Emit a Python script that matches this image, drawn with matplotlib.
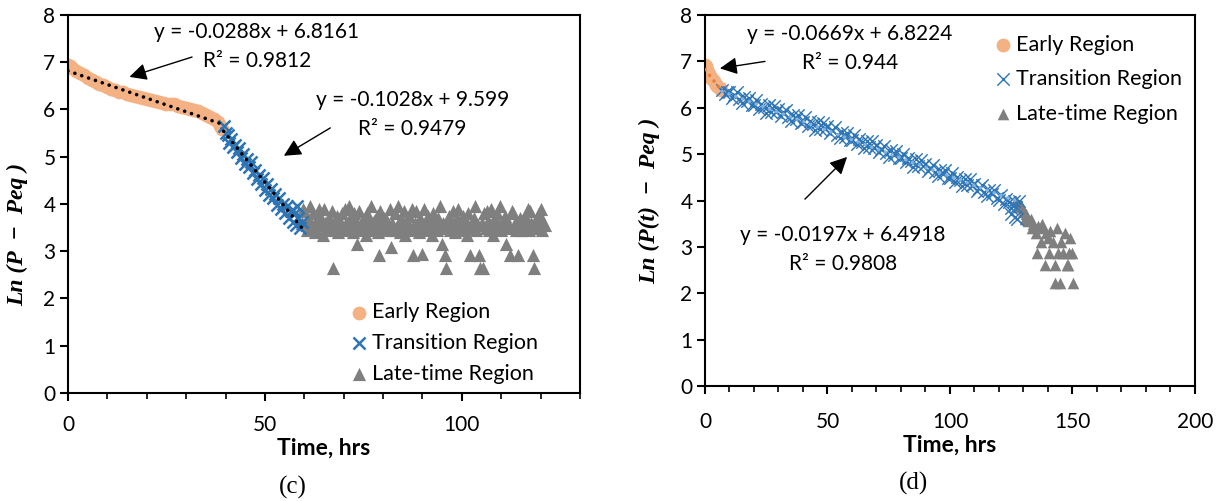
import numpy as np
import matplotlib.pyplot as plt
from matplotlib.ticker import MultipleLocator

plt.rcParams['font.family'] = ['Lato', 'DejaVu Sans']

# ---- panel (c) ----
c_early_t = [0, 0.5, 1, 2, 3, 4, 5, 6, 7, 8, 9, 10, 11, 12, 13, 14, 15, 16, 17, 18,
             19, 20, 21, 22, 23, 24, 25, 26, 27, 28, 29, 30, 31, 32, 33, 34, 35, 36, 37, 38,
             38.5, 39]
c_early_y = [6.95, 6.91, 6.87, 6.82, 6.77, 6.72, 6.66, 6.62, 6.58, 6.54, 6.51, 6.47, 6.44, 6.41, 6.38, 6.36, 6.33, 6.31, 6.29, 6.26,
             6.24, 6.22, 6.20, 6.18, 6.16, 6.14, 6.12, 6.11, 6.12, 6.08, 6.05, 6.03, 6.01, 5.98, 5.96, 5.93, 5.89, 5.85, 5.80, 5.73,
             5.66, 5.58]

c_trans_t = [39.5, 40, 40.5, 41, 41.5, 42, 42.5, 43, 43.5, 44, 44.5, 45, 45.5, 46, 46.5, 47, 47.5, 48, 48.5, 49,
             49.5, 50, 50.5, 51, 51.5, 52, 52.5, 53, 53.5, 54, 54.5, 55, 55.5, 56, 56.5, 57, 57.5, 58, 58.5, 59,
             59.5, 58.2, 57.2]
c_trans_y = [5.65, 5.50, 5.45, 5.30, 5.38, 5.20, 5.25, 5.10, 5.18, 4.98, 5.05, 4.85, 4.95, 4.78, 4.88, 4.65, 4.72, 4.52, 4.62, 4.42,
             4.55, 4.30, 4.42, 4.20, 4.32, 4.12, 4.22, 3.98, 4.12, 3.90, 4.00, 3.80, 3.95, 3.70, 3.85, 3.62, 3.78, 3.55, 3.70, 3.50,
             3.62, 3.95, 3.88]

c_late_t = [59.5, 59.7,
            60, 60.33, 60.67, 61, 61.33, 61.67, 62, 62.33, 62.67, 63, 63.33, 63.67, 64, 64.33, 64.67,
            65, 65.33, 65.67, 66, 66.33, 66.67, 67, 67.33, 67.67, 68, 68.33, 68.67, 69, 69.33, 69.67,
            70, 70.33, 70.67, 71, 71.33, 71.67, 72, 72.33, 72.67, 73, 73.33, 73.67, 74, 74.33, 74.67,
            75, 75.33, 75.67, 76, 76.33, 76.67, 77, 77.33, 77.67, 78, 78.33, 78.67, 79, 79.33, 79.67,
            80, 80.33, 80.67, 81, 81.33, 81.67, 82, 82.33, 82.67, 83, 83.33, 83.67, 84, 84.33, 84.67,
            85, 85.33, 85.67, 86, 86.33, 86.67, 87, 87.33, 87.67, 88, 88.33, 88.67, 89, 89.33, 89.67,
            90, 90.33, 90.67, 91, 91.33, 91.67, 92, 92.33, 92.67, 93, 93.33, 93.67, 94, 94.33, 94.67,
            95, 95.33, 95.67, 96, 96.33, 96.67, 97, 97.33, 97.67, 98, 98.33, 98.67, 99, 99.33, 99.67,
            100, 100.33, 100.67, 101, 101.33, 101.67, 102, 102.33, 102.67, 103, 103.33, 103.67, 104, 104.33, 104.67,
            105, 105.33, 105.67, 106, 106.33, 106.67, 107, 107.33, 107.67, 108, 108.33, 108.67, 109, 109.33, 109.67,
            110, 110.33, 110.67, 111, 111.33, 111.67, 112, 112.33, 112.67, 113, 113.33, 113.67, 114, 114.33, 114.67,
            115, 115.33, 115.67, 116, 116.33, 116.67, 117, 117.33, 117.67, 118, 118.33, 118.67, 119, 119.33, 119.67,
            120, 120.33, 120.67, 121]
c_late_y = [3.60, 3.90,
            3.85, 3.60, 3.45, 3.70, 3.95, 3.50, 3.55, 3.80, 3.40, 3.65, 3.45, 3.90, 3.75, 3.55, 3.35,
            3.90, 3.60, 3.50, 3.45, 3.70, 3.55, 3.85, 2.65, 3.60, 3.50, 3.75, 3.40, 3.65, 3.55, 3.80,
            3.45, 3.90, 3.60, 3.50, 3.95, 3.70, 3.55, 3.40, 3.80, 3.65, 3.15, 3.50, 3.85, 3.60, 3.45,
            3.55, 3.70, 3.35, 3.80, 3.50, 3.60, 3.95, 3.45, 3.65, 3.55, 3.75, 3.40, 2.92, 3.85, 3.60,
            3.50, 3.70, 3.45, 3.65, 3.55, 3.90, 3.10, 3.60, 3.45, 3.80, 3.50, 3.95, 3.60, 3.40, 3.70,
            3.55, 3.85, 3.35, 3.65, 3.50, 3.75, 3.45, 3.90, 2.92, 3.60, 3.85, 3.50, 3.40, 3.70, 3.55,
            2.95, 3.90, 3.60, 3.50, 3.75, 3.45, 3.65, 3.35, 3.80, 3.55, 3.60, 3.45, 3.70, 3.95, 3.50,
            3.15, 3.60, 2.92, 2.65, 3.55, 3.75, 3.45, 3.65, 3.85, 3.55, 3.40, 3.70, 3.90, 3.60, 3.50,
            3.45, 3.75, 3.55, 3.65, 3.35, 3.80, 2.92, 3.50, 3.60, 3.70, 3.95, 3.45, 3.55, 2.92, 2.65,
            3.60, 2.65, 3.80, 3.50, 3.85, 3.65, 3.45, 3.90, 3.55, 3.35, 3.70, 3.60, 3.80, 3.50, 3.95,
            3.45, 3.65, 3.55, 3.75, 3.15, 3.60, 3.50, 2.92, 3.85, 3.80, 3.55, 3.45, 3.65, 2.92, 3.70,
            3.45, 3.60, 3.50, 3.75, 3.55, 3.90, 3.45, 3.85, 3.60, 2.92, 2.65, 3.55, 3.70, 3.50, 3.80,
            3.90, 3.45, 3.60, 3.55]

c_fit_early = (-0.0288, 6.8161, 0.9812)
c_fit_trans = (-0.1028, 9.599, 0.9479)

# ---- panel (d) ----
d_early_t = [0, 0.3, 0.6, 1.0, 1.4, 1.8, 2.2, 2.6, 3.0, 3.5, 4.0, 4.5, 5.0, 5.5, 6.0, 6.5]
d_early_y = [6.92, 6.90, 6.86, 6.82, 6.77, 6.72, 6.68, 6.64, 6.61, 6.57, 6.54, 6.50, 6.47, 6.44, 6.42, 6.39]

d_trans_t = [7, 8, 9,
             10, 11, 12, 13, 14, 15, 16, 17, 18, 19,
             20, 21, 22, 23, 24, 25, 26, 27, 28, 29,
             30, 31, 32, 33, 34, 35, 36, 37, 38, 39,
             40, 41, 42, 43, 44, 45, 46, 47, 48, 49,
             50, 51, 52, 53, 54, 55, 56, 57, 58, 59,
             60, 61, 62, 63, 64, 65, 66, 67, 68, 69,
             70, 71, 72, 73, 74, 75, 76, 77, 78, 79,
             80, 81, 82, 83, 84, 85, 86, 87, 88, 89,
             90, 91, 92, 93, 94, 95, 96, 97, 98, 99,
             100, 101, 102, 103, 104, 105, 106, 107, 108, 109,
             110, 111, 112, 113, 114, 115, 116, 117, 118, 119,
             120, 121, 122, 123, 124, 125, 126, 127, 128,
             125, 126.5, 127.5]
d_trans_y = [6.38, 6.30, 6.33,
             6.35, 6.21, 6.28, 6.34, 6.18, 6.10, 6.23, 6.14, 6.22, 6.06,
             6.07, 6.17, 5.98, 6.08, 6.02, 5.89, 6.05, 5.91, 6.04, 5.90,
             5.98, 5.83, 5.90, 5.96, 5.80, 5.72, 5.85, 5.76, 5.84, 5.68,
             5.70, 5.80, 5.61, 5.71, 5.66, 5.53, 5.69, 5.55, 5.68, 5.54,
             5.60, 5.45, 5.52, 5.58, 5.42, 5.34, 5.47, 5.38, 5.46, 5.30,
             5.31, 5.41, 5.22, 5.32, 5.26, 5.13, 5.29, 5.15, 5.28, 5.14,
             5.20, 5.05, 5.12, 5.18, 5.02, 4.94, 5.08, 4.99, 5.07, 4.91,
             4.91, 5.01, 4.82, 4.92, 4.86, 4.73, 4.89, 4.75, 4.88, 4.74,
             4.79, 4.64, 4.71, 4.77, 4.61, 4.53, 4.66, 4.57, 4.65, 4.49,
             4.49, 4.59, 4.40, 4.50, 4.44, 4.31, 4.47, 4.33, 4.46, 4.33,
             4.36, 4.21, 4.28, 4.34, 4.18, 4.10, 4.23, 4.14, 4.22, 4.06,
             4.02, 4.12, 3.93, 4.03, 3.97, 3.84, 4.00, 3.86, 3.99,
             3.72, 3.65, 3.60]

d_late_t = [127, 128, 129, 130, 130.5, 131, 132, 133, 133.5, 134, 135, 135.5, 136, 137, 137.5, 138, 138.6, 139, 140, 140.5,
            141, 142, 143, 143, 143.5, 144, 145, 145.5, 146, 147, 147.6, 148, 148.5, 149, 150, 150.4]
d_late_y = [4.00, 3.85, 3.90, 3.75, 3.60, 3.70, 3.55, 3.60, 3.40, 3.50, 3.30, 2.87, 3.45, 3.10, 3.50, 3.40, 2.62, 3.30, 3.20, 2.87,
            3.35, 3.10, 2.62, 2.23, 3.40, 2.87, 2.23, 3.10, 2.87, 3.30, 2.62, 2.62, 2.87, 3.20, 2.87, 2.23]

d_fit_early = (-0.0669, 6.8224, 0.944)
d_fit_trans = (-0.0197, 6.4918, 0.9808)

ORANGE = '#F4B183'
BLUE = '#2E75B6'
GRAY = '#7F7F7F'


def fit_text(fit):
    m, b, r2 = fit
    return 'y = {}x + {}\nR² = {}'.format(m, b, r2)


def trend(ax, t, fit, color):
    m, b, _ = fit
    x = np.array([min(t), max(t)])
    ax.plot(x, m * x + b, color=color, lw=2.6, linestyle=(0, (0.01, 2.0)),
            dash_capstyle='round', zorder=5)


def style_axes(ax, xmax):
    ax.set_xlim(0, xmax)
    ax.set_ylim(0, 8)
    ax.xaxis.set_major_locator(MultipleLocator(50))
    ax.xaxis.set_minor_locator(MultipleLocator(10))
    ax.yaxis.set_major_locator(MultipleLocator(1))
    for s in ax.spines.values():
        s.set_linewidth(1.5)
    ax.tick_params(axis='both', which='major', direction='out', length=6, width=1.5,
                   labelsize=15, pad=3)
    ax.tick_params(axis='x', which='minor', direction='out', length=4, width=1.2)
    ax.tick_params(axis='x', pad=10)
    ax.set_xlabel('Time, hrs', fontsize=16.5, fontweight='bold', labelpad=2)


arrow = dict(arrowstyle='-|>', mutation_scale=26, lw=1, color='black', shrinkA=0, shrinkB=0)
fig = plt.figure(figsize=(12.25, 5.01), dpi=100)

# (c)
ax = fig.add_axes([0.0555, 0.2156, 0.418, 0.7545])
ax.scatter(c_early_t, c_early_y, s=80, color=ORANGE, marker='o', label='Early Region', zorder=2)
ax.scatter(c_trans_t, c_trans_y, s=75, color=BLUE, marker='x', linewidths=1.8, label='Transition Region', zorder=3)
ax.scatter(c_late_t, c_late_y, s=90, color=GRAY, marker='^', linewidths=0, label='Late-time Region', zorder=2)
trend(ax, c_early_t, c_fit_early, 'black')
trend(ax, c_trans_t, c_fit_trans, 'black')
style_axes(ax, 130)
fig.text(18 / 1225, 1 - 234 / 501, 'Ln (P  −  Peq )', rotation=90, ha='center', va='center',
         fontsize=17, fontweight='bold', fontstyle='italic', family=['Liberation Serif'])
ax.text(48.0, 7.34, fit_text(c_fit_early), ha='center', va='center', fontsize=15, linespacing=1.55)
ax.text(87.5, 5.89, fit_text(c_fit_trans), ha='center', va='center', fontsize=15, linespacing=1.55)
ax.annotate('', xy=(15.6, 6.69), xytext=(31.5, 7.11), arrowprops=arrow)
ax.annotate('', xy=(54.8, 5.02), xytext=(66.6, 5.61), arrowprops=arrow)
ax.legend(loc='upper left', bbox_to_anchor=(72.3, 1.92), bbox_transform=ax.transData,
          frameon=False, fontsize=15.5, handlelength=0.6, handletextpad=0.3,
          labelspacing=0.5, borderpad=0, borderaxespad=0)
fig.text(293 / 1225, 1 - 487 / 501, '(c)', ha='center', va='center', fontsize=18,
         family=['Liberation Serif'])

# (d)
ax = fig.add_axes([0.5755, 0.2295, 0.400, 0.7405])
ax.scatter(d_early_t, d_early_y, s=80, color=ORANGE, marker='o', label='Early Region', zorder=2)
ax.scatter(d_trans_t, d_trans_y, s=80, color=BLUE, marker='x', linewidths=1.0, label='Transition Region', zorder=3)
ax.scatter(d_late_t, d_late_y, s=70, color=GRAY, marker='^', linewidths=0, label='Late-time Region', zorder=2)
trend(ax, d_early_t, d_fit_early, '#ED7D31')
trend(ax, d_trans_t, d_fit_trans, '#7FB2E0')
style_axes(ax, 200)
ax.tick_params(axis='x', pad=13)
fig.text(650 / 1225, 1 - 201 / 501, 'Ln (P(t)  −  Peq )', rotation=90, ha='center', va='center',
         fontsize=17, fontweight='bold', fontstyle='italic', family=['Liberation Serif'])
ax.text(59.2, 7.27, fit_text(d_fit_early), ha='center', va='center', fontsize=15, linespacing=1.55)
ax.text(56.3, 2.95, fit_text(d_fit_trans), ha='center', va='center', fontsize=15, linespacing=1.55)
ax.annotate('', xy=(6.1, 6.85), xytext=(24.5, 7.0), arrowprops=arrow)
ax.annotate('', xy=(58.0, 4.94), xytext=(40.8, 4.03), arrowprops=arrow)
ax.legend(loc='upper left', bbox_to_anchor=(119.2, 7.58), bbox_transform=ax.transData,
          frameon=False, fontsize=15.5, handlelength=0.6, handletextpad=0.3,
          labelspacing=0.68, borderpad=0, borderaxespad=0)
fig.text(913 / 1225, 1 - 483 / 501, '(d)', ha='center', va='center', fontsize=18,
         family=['Liberation Serif'])

fig.savefig('out.png', dpi=100)
